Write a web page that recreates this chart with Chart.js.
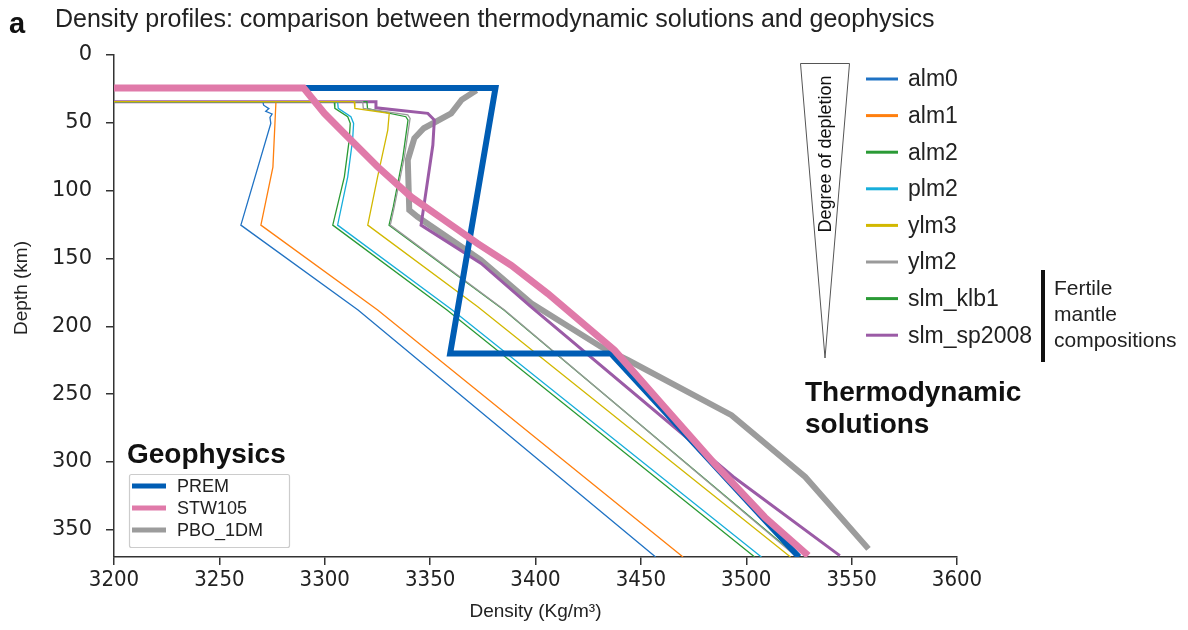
<!DOCTYPE html>
<html>
<head>
<meta charset="utf-8">
<script src="https://cdn.jsdelivr.net/npm/chart.js@4"></script>
<style>
  html, body { margin: 0; padding: 0; background: #fff; }
  #chart { display: block; }
</style>
</head>
<body>
<canvas id="chart" width="1188" height="630"></canvas>
<script>
// Density profiles (x = density Kg/m3, y = depth km)

const xTicks = [3200, 3250, 3300, 3350, 3400, 3450, 3500, 3550, 3600];
const yTicks = [0, 50, 100, 150, 200, 250, 300, 350];

// geophysics
const premDepth = [24.4, 24.4, 220, 220, 370];
const premDensity = [2900, 3381, 3359.5, 3435.8, 3525];

const stwDepth = [24.4, 24.4, 43, 57.8, 82.4, 104.6, 121.8, 139, 155, 175.9, 217.7, 259.6, 301.3, 340.7, 369];
const stwDensity = [2900, 3290, 3299.8, 3309.3, 3325.1, 3341, 3356.8, 3372.6, 3388.5, 3405.9, 3437.5, 3461.3, 3485, 3508.8, 3529.4];

const pboDepth = [26, 33, 43, 54, 61.4, 77.4, 114.3, 119.2, 151, 183, 215, 225, 265.5, 311, 364];
const pboDensity = [3372, 3365, 3360, 3347, 3342.5, 3339.4, 3340.1, 3344, 3374, 3398, 3431, 3444, 3493, 3528, 3558];

// thermodynamic solutions
const alm0Depth = [34.4, 34.4, 37, 39.5, 41.5, 43.5, 46, 50.4, 125.4, 188, 370];
const alm0Density = [3100, 3270.6, 3271, 3273.5, 3272, 3275, 3274, 3274.4, 3260.2, 3315.8, 3457];

const alm1Depth = [34.4, 34.4, 36, 82.6, 125.4, 188, 370];
const alm1Density = [3100, 3276.8, 3276.8, 3275.4, 3269.7, 3325.1, 3470];

const alm2Depth = [34.4, 34.4, 39.3, 45.5, 50.4, 62.7, 89.8, 125.4, 188, 370];
const alm2Density = [3100, 3304.5, 3304.8, 3310.9, 3312.1, 3311.6, 3309.3, 3303.8, 3358, 3504];

const plm2Depth = [34.4, 34.4, 39.3, 45.5, 50.4, 62.7, 89.8, 125.4, 188, 370];
const plm2Density = [3100, 3306.1, 3306.4, 3312.4, 3313.7, 3313.2, 3310.9, 3306.1, 3360.5, 3507.2];

const ylm3Depth = [34.4, 34.4, 39.3, 43, 55.3, 89.7, 125.4, 185.6, 370];
const ylm3Density = [3100, 3314, 3314.3, 3330.6, 3329.9, 3325.1, 3320.4, 3372.6, 3521];

const ylm2Depth = [34.4, 34.4, 39.3, 44.2, 46.7, 75, 111.9, 125.4, 188, 370];
const ylm2Density = [3100, 3318, 3318.3, 3339.4, 3340.5, 3337.8, 3333, 3331.1, 3385.3, 3524];

const klb1Depth = [34.4, 34.4, 39.5, 45.5, 48, 76, 112, 125.4, 188, 370];
const klb1Density = [3100, 3320, 3320.3, 3338.5, 3339.5, 3337, 3332.5, 3330.5, 3385, 3524.5];

const sp2008Depth = [34.4, 34.4, 38.9, 43, 47.9, 66.4, 125.4, 153.6, 185.6, 311, 369];
const sp2008Density = [3100, 3324.3, 3324.3, 3348.9, 3352, 3351.3, 3345.7, 3374.2, 3397.9, 3494, 3544.4];

const geoNames = ['PREM', 'STW105', 'PBO_1DM'];
const thermoNames = ['alm0', 'alm1', 'alm2', 'plm2', 'ylm3', 'ylm2', 'slm_klb1', 'slm_sp2008'];

const SANS = "'Liberation Sans', Arial, Helvetica, sans-serif";
const DJV = "'DejaVu Sans', sans-serif";

const toPoints = (dens, depth) => dens.map((d, i) => ({ x: d, y: depth[i] }));

const line = (label, dens, depth, color, width, order) => ({
  label,
  data: toPoints(dens, depth),
  borderColor: color,
  backgroundColor: color,
  borderWidth: width,
  showLine: true,
  pointRadius: 0,
  pointHoverRadius: 0,
  tension: 0,
  fill: false,
  order
});

// lower order is drawn on top
const datasets = [
  line('alm0', alm0Density, alm0Depth, '#1f72c4', 1.3, 20),
  line('alm1', alm1Density, alm1Depth, '#ff7f0e', 1.3, 19),
  line('alm2', alm2Density, alm2Depth, '#2a9a35', 1.3, 18),
  line('plm2', plm2Density, plm2Depth, '#17aedb', 1.3, 17),
  line('ylm3', ylm3Density, ylm3Depth, '#d2b800', 1.3, 14),
  line('slm_klb1', klb1Density, klb1Depth, '#2a9a35', 1.3, 16),
  line('ylm2', ylm2Density, ylm2Depth, '#9a9a9a', 1.3, 15),
  line('slm_sp2008', sp2008Density, sp2008Depth, '#9b5ba6', 3, 22),
  line('PBO_1DM', pboDensity, pboDepth, '#9c9c9c', 6, 23),
  line('PREM', premDensity, premDepth, '#005db4', 6, 2),
  line('STW105', stwDensity, stwDepth, '#e07aa9', 7, 1)
];

const colorOf = name => datasets.find(d => d.label === name).borderColor;

// legends, title and labels drawn around the plot
const decor = {
  id: 'decor',
  afterDraw(chart) {
    const ctx = chart.ctx;
    ctx.save();
    ctx.fillStyle = '#111';
    ctx.textBaseline = 'alphabetic';
    ctx.textAlign = 'left';

    ctx.font = 'bold 29px ' + SANS;
    ctx.fillText('a', 9, 33);
    ctx.font = '25px ' + SANS;
    ctx.fillStyle = '#222';
    ctx.fillText('Density profiles: comparison between thermodynamic solutions and geophysics', 55, 27);

    // y axis title
    ctx.save();
    ctx.translate(22, 288);
    ctx.rotate(-Math.PI / 2);
    ctx.textAlign = 'center';
    ctx.textBaseline = 'middle';
    ctx.font = '19px ' + SANS;
    ctx.fillText('Depth (km)', 0, 0);
    ctx.restore();

    // depletion wedge
    ctx.strokeStyle = '#555';
    ctx.lineWidth = 1;
    ctx.beginPath();
    ctx.moveTo(800.5, 63.5);
    ctx.lineTo(849.5, 63.5);
    ctx.lineTo(825, 358);
    ctx.closePath();
    ctx.stroke();
    ctx.save();
    ctx.translate(826, 154);
    ctx.rotate(-Math.PI / 2);
    ctx.textAlign = 'center';
    ctx.textBaseline = 'middle';
    ctx.font = '18px ' + SANS;
    ctx.fillStyle = '#111';
    ctx.fillText('Degree of depletion', 0, 0);
    ctx.restore();

    // thermodynamic legend
    ctx.font = '23px ' + SANS;
    ctx.textBaseline = 'middle';
    thermoNames.forEach((name, i) => {
      const y = 79 + i * 36.6;
      ctx.strokeStyle = colorOf(name);
      ctx.lineWidth = 3;
      ctx.beginPath();
      ctx.moveTo(866, y);
      ctx.lineTo(898, y);
      ctx.stroke();
      ctx.fillStyle = '#222';
      ctx.fillText(name, 908, y + 1);
    });

    // fertile bracket
    ctx.fillStyle = '#111';
    ctx.fillRect(1041, 270, 4, 92);
    ctx.font = '21px ' + SANS;
    ctx.fillStyle = '#222';
    ctx.fillText('Fertile', 1054, 289);
    ctx.fillText('mantle', 1054, 315);
    ctx.fillText('compositions', 1054, 341);

    ctx.font = 'bold 28px ' + SANS;
    ctx.fillStyle = '#111';
    ctx.fillText('Thermodynamic', 805, 393);
    ctx.fillText('solutions', 805, 425);

    // geophysics legend
    ctx.fillText('Geophysics', 127, 455);
    ctx.fillStyle = 'rgba(255,255,255,0.85)';
    ctx.strokeStyle = '#cccccc';
    ctx.lineWidth = 1.2;
    ctx.beginPath();
    ctx.roundRect(129.5, 474.5, 160, 73, 2);
    ctx.fill();
    ctx.stroke();
    ctx.font = '18px ' + SANS;
    geoNames.forEach((name, i) => {
      const y = 486 + i * 22;
      ctx.strokeStyle = colorOf(name);
      ctx.lineWidth = 5;
      ctx.beginPath();
      ctx.moveTo(132, y);
      ctx.lineTo(166, y);
      ctx.stroke();
      ctx.fillStyle = '#222';
      ctx.fillText(name, 177, y + 1);
    });
    ctx.restore();
  }
};

new Chart(document.getElementById('chart'), {
  type: 'scatter',
  data: { datasets },
  options: {
    responsive: false,
    animation: false,
    devicePixelRatio: 1,
    layout: { padding: { top: 55, right: 231, left: 0, bottom: 0 } },
    plugins: {
      legend: { display: false },
      tooltip: { enabled: false },
      title: { display: false }
    },
    scales: {
      x: {
        type: 'linear',
        position: 'bottom',
        min: 3200,
        max: 3600,
        afterBuildTicks: s => { s.ticks = xTicks.map(v => ({ value: v })); },
        afterFit: s => { s.height = 73; },
        ticks: {
          color: '#222',
          font: { family: "'DejaVu Sans Condensed', 'DejaVu Sans', sans-serif", size: 22 },
          padding: 2,
          maxRotation: 0,
          callback: v => String(v)
        },
        grid: { drawOnChartArea: false, drawTicks: true, tickLength: 8, color: '#333', lineWidth: 1.5 },
        border: { display: true, color: '#333', width: 1.5 },
        title: {
          display: true,
          text: 'Density (Kg/m³)',
          color: '#222',
          font: { family: SANS, size: 19 },
          padding: { top: 0, bottom: 7 }
        }
      },
      y: {
        type: 'linear',
        position: 'left',
        min: 0,
        max: 370,
        reverse: true,
        afterBuildTicks: s => { s.ticks = yTicks.map(v => ({ value: v })); },
        afterFit: s => { s.width = 114; },
        ticks: {
          color: '#222',
          font: { family: DJV, size: 21 },
          padding: 14,
          callback: v => String(v)
        },
        grid: { drawOnChartArea: false, drawTicks: true, tickLength: 8, color: '#333', lineWidth: 1.5 },
        border: { display: true, color: '#333', width: 1.5 }
      }
    }
  },
  plugins: [decor]
});
</script>
</body>
</html>
